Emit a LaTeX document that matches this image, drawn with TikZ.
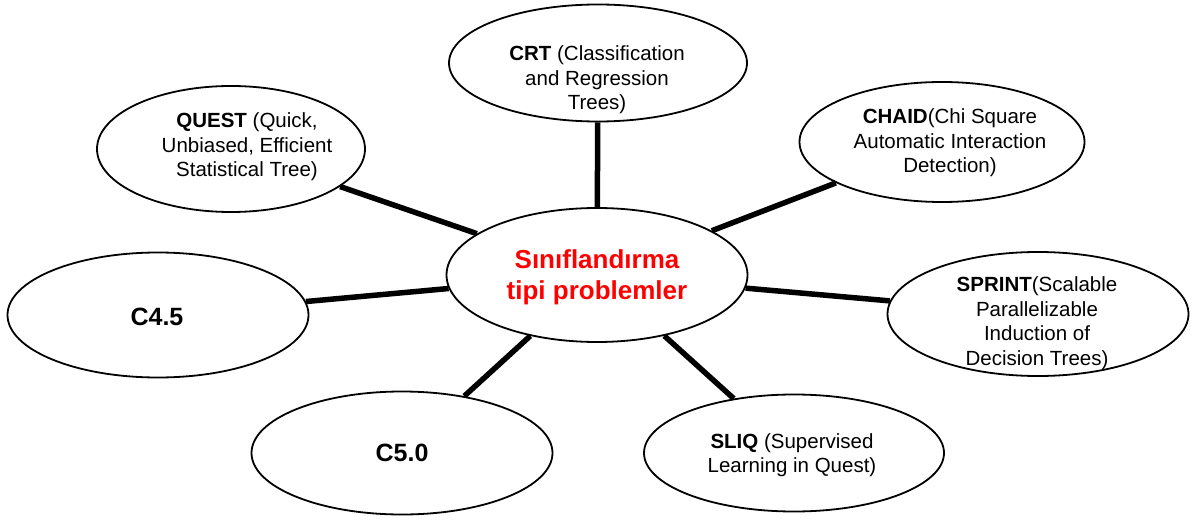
\documentclass[tikz,border=0pt]{standalone}
\usepackage{fontspec}
\setmainfont{Liberation Sans}
\usetikzlibrary{shapes.geometric}
\begin{document}
\begin{tikzpicture}[x=1pt,y=-1pt,
  oval/.style={draw=black, line width=1.8pt, ellipse, inner sep=0pt, fill=white},
  caption/.style={align=center, inner sep=0pt, font=\fontsize{20.5}{24.5}\selectfont},
  bigcap/.style={align=center, inner sep=0pt, font=\fontsize{25}{30}\selectfont\bfseries},
  hubcap/.style={align=center, inner sep=0pt, text=red, font=\fontsize{26}{31}\selectfont\bfseries},
  link/.style={draw=black, line width=5.5pt}]
\useasboundingbox (0,0) rectangle (1199,529);

% ellipses
\node[oval, minimum width=301, minimum height=134] (hub)    at (597,275) {};
\node[oval, minimum width=298, minimum height=117] (crt)    at (598,63)  {};
\node[oval, minimum width=268, minimum height=126] (quest)  at (231,149) {};
\node[oval, minimum width=285, minimum height=120] (chaid)  at (942,142) {};
\node[oval, minimum width=301, minimum height=125] (cfour)  at (158,315) {};
\node[oval, minimum width=301, minimum height=124] (sprint) at (1038,314) {};
\node[oval, minimum width=301, minimum height=123] (cfive)  at (402,453) {};
\node[oval, minimum width=300, minimum height=117] (sliq)   at (794,453) {};

% spokes from the hub
\draw[link] (hub) -- (crt);
\draw[link] (hub) -- (quest);
\draw[link] (hub) -- (chaid);
\draw[link] (hub) -- (cfour);
\draw[link] (hub) -- (sprint);
\draw[link] (hub) -- (cfive);
\draw[link] (hub) -- (sliq);

% texts
\node[hubcap]  (thub)    at (597,277) {Sınıflandırma\\tipi problemler};
\node[caption] (tcrt)    at (597,80)  {\textbf{CRT} (Classification\\and Regression\\Trees)};
\node[caption] (tquest)  at (247,147) {\textbf{QUEST} (Quick,\\Unbiased, Efficient\\Statistical Tree)};
\node[caption] (tchaid)  at (950,143) {\textbf{CHAID}(Chi Square\\Automatic Interaction\\Detection)};
\node[bigcap]  (tcfour)  at (157,317) {C4.5};
\node[caption] (tsprint) at (1037,323) {\textbf{SPRINT}(Scalable\\Parallelizable\\Induction of\\Decision Trees)};
\node[bigcap]  (tcfive)  at (402,453) {C5.0};
\node[caption] (tsliq)   at (792,455) {\textbf{SLIQ} (Supervised\\Learning in Quest)};
\end{tikzpicture}
\end{document}
